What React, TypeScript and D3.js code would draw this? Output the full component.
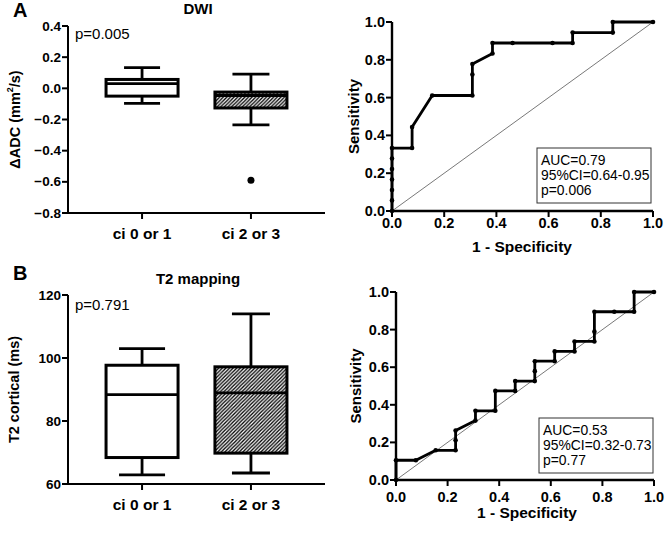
import React from "react";
import * as d3 from "d3";

const FONT = "'Liberation Sans', Arial, sans-serif";

const categories = ["ci 0 or 1", "ci 2 or 3"];

// Panel A (DWI) box stats
const dwiMin = [-0.096, -0.235];
const dwiQ1 = [-0.05, -0.126];
const dwiMed = [0.03, -0.046];
const dwiQ3 = [0.057, -0.024];
const dwiMax = [0.133, 0.091];
const dwiOutliers = [[], [-0.59]];
const dwiTicks = [0.4, 0.2, 0.0, -0.2, -0.4, -0.6, -0.8];

// Panel B (T2 mapping) box stats
const t2Min = [62.9, 63.5];
const t2Q1 = [68.4, 69.8];
const t2Med = [88.4, 88.9];
const t2Q3 = [97.7, 97.2];
const t2Max = [103.0, 114.0];
const t2Outliers = [[], []];
const t2Ticks = [60, 80, 100, 120];

// ROC curves
const rocAFpr = [0, 0, 0, 0, 0, 0, 0, 0.077, 0.077, 0.154, 0.308, 0.308, 0.308, 0.385, 0.385, 0.462, 0.615, 0.692, 0.692, 0.846, 0.846, 1];
const rocATpr = [0, 0.056, 0.111, 0.167, 0.222, 0.278, 0.333, 0.333, 0.444, 0.611, 0.611, 0.722, 0.778, 0.833, 0.889, 0.889, 0.889, 0.889, 0.944, 0.944, 1, 1];
const rocBFpr = [0, 0, 0.077, 0.154, 0.231, 0.231, 0.231, 0.308, 0.308, 0.385, 0.385, 0.462, 0.462, 0.538, 0.538, 0.538, 0.615, 0.615, 0.692, 0.692, 0.769, 0.769, 0.769, 0.846, 0.923, 0.923, 1];
const rocBTpr = [0, 0.105, 0.105, 0.158, 0.158, 0.211, 0.263, 0.316, 0.368, 0.368, 0.474, 0.474, 0.526, 0.526, 0.579, 0.632, 0.632, 0.684, 0.684, 0.737, 0.737, 0.789, 0.895, 0.895, 0.895, 1, 1];
const rocTicks = [0, 0.2, 0.4, 0.6, 0.8, 1.0];

const rocALegend = ["AUC=0.79", "95%CI=0.64-0.95", "p=0.006"];
const rocBLegend = ["AUC=0.53", "95%CI=0.32-0.73", "p=0.77"];

type BoxProps = {
  top: number; bottom: number; left: number; right: number;
  domain: [number, number]; ticks: number[]; fmt: (v: number) => string;
  mins: number[]; q1s: number[]; meds: number[]; q3s: number[]; maxs: number[]; outs: number[][];
  letter: string; title: string; pText: string; yLabel: React.ReactNode;
  yLabelX: number; titleY: number; letterY: number; pY: number; catY: number;
  caps: number[];
};

function BoxPanel(p: BoxProps) {
  const y = d3.scaleLinear().domain(p.domain).range([p.bottom, p.top]);
  const x = d3.scalePoint<string>().domain(categories).range([p.left, p.right]).padding(0.68);
  const boxW = 72;
  const fills = ["#fff", "url(#hatch)"];
  return (
    <g>
      <text x={13} y={p.letterY} fontFamily={FONT} fontWeight="bold" fontSize={20}>{p.letter}</text>
      <text x={198} y={p.titleY} fontFamily={FONT} fontWeight="bold" fontSize={15} textAnchor="middle">{p.title}</text>
      <text x={75} y={p.pY} fontFamily={FONT} fontSize={15}>{p.pText}</text>
      <text transform={`translate(${p.yLabelX},${(p.top + p.bottom) / 2}) rotate(-90)`} fontFamily={FONT} fontWeight="bold" fontSize={14.5} textAnchor="middle" dominantBaseline="central">{p.yLabel}</text>
      {/* axes */}
      <line x1={p.left} x2={p.left} y1={p.top} y2={p.bottom} stroke="#000" strokeWidth={2} />
      <line x1={p.left - 1} x2={p.right} y1={p.bottom} y2={p.bottom} stroke="#000" strokeWidth={2} />
      {p.ticks.map((t) => (
        <g key={t}>
          <line x1={p.left - 6} x2={p.left} y1={y(t)} y2={y(t)} stroke="#000" strokeWidth={2} />
          <text x={p.left - 7} y={y(t)} fontFamily={FONT} fontWeight="bold" fontSize={13.5} textAnchor="end" dominantBaseline="central">{p.fmt(t)}</text>
        </g>
      ))}
      {categories.map((c, i) => {
        const cx = x(c)!;
        return (
          <g key={c}>
            <line x1={cx} x2={cx} y1={p.bottom} y2={p.bottom + 6} stroke="#000" strokeWidth={2} />
            <text x={cx} y={p.catY} fontFamily={FONT} fontWeight="bold" fontSize={15.5} textAnchor="middle">{c}</text>
            <line x1={cx} x2={cx} y1={y(p.maxs[i])} y2={y(p.q3s[i])} stroke="#000" strokeWidth={2.8} />
            <line x1={cx} x2={cx} y1={y(p.q1s[i])} y2={y(p.mins[i])} stroke="#000" strokeWidth={2.8} />
            <line x1={cx - p.caps[i] / 2} x2={cx + p.caps[i] / 2} y1={y(p.maxs[i])} y2={y(p.maxs[i])} stroke="#000" strokeWidth={2.8} />
            <line x1={cx - p.caps[i] / 2} x2={cx + p.caps[i] / 2} y1={y(p.mins[i])} y2={y(p.mins[i])} stroke="#000" strokeWidth={2.8} />
            <rect x={cx - boxW / 2} width={boxW} y={y(p.q3s[i])} height={y(p.q1s[i]) - y(p.q3s[i])} fill={fills[i]} stroke="#000" strokeWidth={3} />
            <line x1={cx - boxW / 2} x2={cx + boxW / 2} y1={y(p.meds[i])} y2={y(p.meds[i])} stroke="#000" strokeWidth={2.8} />
            {p.outs[i].map((o, j) => (
              <circle key={j} cx={cx} cy={y(o)} r={3.5} fill="#000" />
            ))}
          </g>
        );
      })}
    </g>
  );
}

type RocProps = {
  left: number; right: number; top: number; bottom: number;
  fpr: number[]; tpr: number[]; legend: string[];
  legendBox: [number, number, number, number];
  tickLabelY: number; xLabelY: number; xLabelX: number; yLabelX: number;
};

function RocPanel(p: RocProps) {
  const x = d3.scaleLinear().domain([0, 1]).range([p.left, p.right]);
  const y = d3.scaleLinear().domain([0, 1]).range([p.bottom, p.top]);
  const pts: [number, number][] = p.fpr.map((f, i) => [f, p.tpr[i]]);
  const line = d3.line<[number, number]>().x((d) => x(d[0])).y((d) => y(d[1]));
  const fmt = d3.format(".1f");
  const [bx0, by0, bx1, by1] = p.legendBox;
  return (
    <g>
      <line x1={x(0)} y1={y(0)} x2={x(1)} y2={y(1)} stroke="#555" strokeWidth={0.8} />
      <path d={line(pts) || ""} fill="none" stroke="#000" strokeWidth={2.8} strokeLinejoin="round" />
      {pts.map((d, i) => (
        <circle key={i} cx={x(d[0])} cy={y(d[1])} r={2.3} fill="#000" />
      ))}
      <line x1={p.left} x2={p.left} y1={p.top} y2={p.bottom + 1} stroke="#000" strokeWidth={2.4} />
      <line x1={p.left - 1} x2={p.right} y1={p.bottom} y2={p.bottom} stroke="#000" strokeWidth={2.4} />
      {rocTicks.map((t) => (
        <g key={t}>
          <line x1={p.left - 6} x2={p.left} y1={y(t)} y2={y(t)} stroke="#000" strokeWidth={2} />
          <text x={p.left - 7} y={y(t)} fontFamily={FONT} fontWeight="bold" fontSize={14.5} textAnchor="end" dominantBaseline="central">{fmt(t)}</text>
          <line x1={x(t)} x2={x(t)} y1={p.bottom} y2={p.bottom + 6} stroke="#000" strokeWidth={2} />
          <text x={x(t)} y={p.tickLabelY} fontFamily={FONT} fontWeight="bold" fontSize={14.5} textAnchor="middle">{fmt(t)}</text>
        </g>
      ))}
      <text x={p.xLabelX} y={p.xLabelY} fontFamily={FONT} fontWeight="bold" fontSize={15.5} textAnchor="middle">1 - Specificity</text>
      <text transform={`translate(${p.yLabelX},${(p.top + p.bottom) / 2}) rotate(-90)`} fontFamily={FONT} fontWeight="bold" fontSize={15} textAnchor="middle" dominantBaseline="central">Sensitivity</text>
      <rect x={bx0} y={by0} width={bx1 - bx0} height={by1 - by0} fill="#fff" stroke="#333" strokeWidth={1} />
      {p.legend.map((s, i) => (
        <text key={s} x={bx0 + 4} y={by0 + 17 + i * 15} fontFamily={FONT} fontSize={13.9}>{s}</text>
      ))}
    </g>
  );
}

export default function App() {
  return (
    <svg width={666} height={533} style={{ position: "absolute", left: 0, top: 0, background: "#fff" }}>
      <defs>
        <pattern id="hatch" patternUnits="userSpaceOnUse" width={3.6} height={3.6}>
          <rect width={3.6} height={3.6} fill="#fff" />
          <path d="M-0.9,0.9 l1.8,-1.8 M0,3.6 l3.6,-3.6 M2.7,4.5 l1.8,-1.8" stroke="#000" strokeWidth={1.3} />
        </pattern>
      </defs>
      <BoxPanel
        top={26} bottom={213} left={68} right={325}
        domain={[-0.8, 0.4]} ticks={dwiTicks} fmt={d3.format(".1f")}
        mins={dwiMin} q1s={dwiQ1} meds={dwiMed} q3s={dwiQ3} maxs={dwiMax} outs={dwiOutliers}
        letter="A" title="DWI" pText="p=0.005"
        yLabel={<>ΔADC (mm<tspan dy={-5} fontSize={9}>2</tspan><tspan dy={5}>/s)</tspan></>}
        yLabelX={15} titleY={14} letterY={17} pY={39} catY={239}
        caps={[36, 37]}
      />
      <BoxPanel
        top={295} bottom={484} left={68} right={325}
        domain={[60, 120]} ticks={t2Ticks} fmt={d3.format("d")}
        mins={t2Min} q1s={t2Q1} meds={t2Med} q3s={t2Q3} maxs={t2Max} outs={t2Outliers}
        letter="B" title="T2 mapping" pText="p=0.791"
        yLabel="T2 cortical (ms)"
        yLabelX={14} titleY={284} letterY={280} pY={310} catY={510}
        caps={[46, 38]}
      />
      <RocPanel
        left={392} right={653} top={22} bottom={211}
        fpr={rocAFpr} tpr={rocATpr} legend={rocALegend}
        legendBox={[537, 148, 651, 203]}
        tickLabelY={228} xLabelY={252} xLabelX={522} yLabelX={353}
      />
      <RocPanel
        left={396} right={654} top={292} bottom={480}
        fpr={rocBFpr} tpr={rocBTpr} legend={rocBLegend}
        legendBox={[539, 418, 653, 473]}
        tickLabelY={502} xLabelY={518} xLabelX={527} yLabelX={355}
      />
    </svg>
  );
}
